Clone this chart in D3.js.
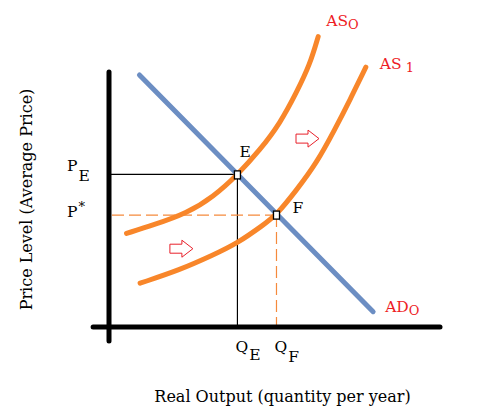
<!DOCTYPE html>
<html>
<head>
<meta charset="utf-8">
<script src="https://cdn.jsdelivr.net/npm/d3@7"></script>
<style>
  body { margin: 0; background: #fff; }
  text { font-family: "DejaVu Serif", "Liberation Serif", serif; }
  .title { font-size: 16px; fill: #000; }
  .mark { font-size: 15.5px; fill: #000; }
  .curveLabel { font-size: 15.5px; fill: #ee1c25; }
</style>
</head>
<body>
<div id="chart"></div>
<script>
// curve points in chart units (0..10 on both axes)
var adPoints  = [[0.92, 8.4], [7.98, 0.51]];
var as0Points = [[0.53, 3.12], [1.34, 3.40], [2.35, 3.79], [3.15, 4.34], [3.88, 5.07], [4.56, 5.9], [5.17, 6.79], [5.67, 7.83], [6.07, 8.75], [6.32, 9.68]];
var as1Points = [[0.94, 1.46], [2.14, 1.90], [3.15, 2.40], [3.88, 2.79], [4.66, 3.40], [5.06, 3.73], [5.67, 4.57], [6.27, 5.46], [6.83, 6.6], [7.28, 7.57], [7.76, 8.66]];

// equilibrium points E and F
var pointE = [3.88, 5.07];
var pointF = [5.06, 3.73];

// shift arrows (left end of each arrow)
var shiftArrows = [[1.84, 2.61], [5.65, 6.28]];

// label texts
var curveNames = [["AS", "O"], ["AS", " 1"], ["AD", "O"]];
var priceLabels = [["P", "E"], ["P", "*"]];
var qtyLabels = [["Q", "E"], ["Q", "F"]];
var xTitle = "Real Output (quantity per year)";
var yTitle = "Price Level (Average Price)";

function init() {
    var w = 492, h = 410;

    var xScale = d3.scaleLinear().domain([0, 10]).range([109, 440]);
    var yScale = d3.scaleLinear().domain([0, 10]).range([327, 27]);

    var svg = d3.select("#chart").append("svg")
        .attr("width", w)
        .attr("height", h);

    var line = d3.line()
        .x(function(d) { return xScale(d[0]); })
        .y(function(d) { return yScale(d[1]); });

    var smooth = d3.line()
        .x(function(d) { return xScale(d[0]); })
        .y(function(d) { return yScale(d[1]); })
        .curve(d3.curveBasis);

    // guide lines to E (solid) and F (dashed)
    svg.append("line")
        .attr("x1", xScale(0) + 2).attr("y1", yScale(pointE[1]) - 0.5)
        .attr("x2", xScale(pointE[0])).attr("y2", yScale(pointE[1]) - 0.5)
        .attr("stroke", "#000").attr("stroke-width", 1.2);
    svg.append("line")
        .attr("x1", xScale(pointE[0])).attr("y1", yScale(pointE[1]))
        .attr("x2", xScale(pointE[0])).attr("y2", yScale(0))
        .attr("stroke", "#000").attr("stroke-width", 1.2);
    svg.append("line")
        .attr("x1", xScale(0) + 3).attr("y1", yScale(pointF[1]))
        .attr("x2", xScale(pointF[0])).attr("y2", yScale(pointF[1]))
        .attr("stroke", "#f58a3c").attr("stroke-width", 1.2)
        .attr("stroke-dasharray", "12,5");
    svg.append("line")
        .attr("x1", xScale(pointF[0])).attr("y1", yScale(pointF[1]))
        .attr("x2", xScale(pointF[0])).attr("y2", yScale(0))
        .attr("stroke", "#f58a3c").attr("stroke-width", 1.2)
        .attr("stroke-dasharray", "12,5");

    // curves
    svg.append("path").datum(adPoints)
        .attr("d", line)
        .attr("fill", "none").attr("stroke", "#6c8ec3")
        .attr("stroke-width", 5).attr("stroke-linecap", "round");

    [as0Points, as1Points].forEach(function(pts) {
        svg.append("path").datum(pts)
            .attr("d", smooth)
            .attr("fill", "none").attr("stroke", "#f8862a")
            .attr("stroke-width", 5).attr("stroke-linecap", "round");
    });

    // axes
    svg.append("line")
        .attr("x1", xScale(0)).attr("y1", yScale(8.5))
        .attr("x2", xScale(0)).attr("y2", yScale(-0.47))
        .attr("stroke", "#000").attr("stroke-width", 5).attr("stroke-linecap", "round");
    svg.append("line")
        .attr("x1", xScale(-0.48)).attr("y1", yScale(0))
        .attr("x2", xScale(10)).attr("y2", yScale(0))
        .attr("stroke", "#000").attr("stroke-width", 5).attr("stroke-linecap", "round");

    // shift arrows
    svg.selectAll(".shift").data(shiftArrows).enter().append("path")
        .attr("class", "shift")
        .attr("transform", function(d) { return "translate(" + xScale(d[0]) + "," + yScale(d[1]) + ")"; })
        .attr("d", "M0,-4.5L12,-4.5L12,-8.5L23,0L12,8.5L12,4.5L0,4.5Z")
        .attr("fill", "#fff").attr("stroke", "#e8202a").attr("stroke-width", 1);

    // equilibrium boxes
    svg.selectAll(".eq").data([pointE, pointF]).enter().append("rect")
        .attr("class", "eq")
        .attr("x", function(d) { return xScale(d[0]) - 3; })
        .attr("y", function(d) { return yScale(d[1]) - 4; })
        .attr("width", 6).attr("height", 8)
        .attr("fill", "#fff").attr("stroke", "#000").attr("stroke-width", 1.3);

    svg.append("text").attr("class", "mark")
        .attr("x", xScale(pointE[0]) + 2).attr("y", yScale(pointE[1]) - 18)
        .text("E");
    svg.append("text").attr("class", "mark")
        .attr("x", xScale(pointF[0]) + 16).attr("y", yScale(pointF[1]) - 2)
        .text("F");

    // curve labels with subscripts
    var curveEnds = [
        [xScale(as0Points[as0Points.length - 1][0]) + 8, yScale(as0Points[as0Points.length - 1][1]) - 11],
        [xScale(as1Points[as1Points.length - 1][0]) + 14, yScale(as1Points[as1Points.length - 1][1]) + 2],
        [xScale(adPoints[1][0]) + 12, yScale(adPoints[1][1]) + 0]
    ];
    curveNames.forEach(function(n, i) {
        var t = svg.append("text").attr("class", "curveLabel")
            .attr("x", curveEnds[i][0]).attr("y", curveEnds[i][1]);
        t.append("tspan").text(n[0]);
        t.append("tspan").attr("dy", 3).style("font-size", "13px")
            .attr("xml:space", "preserve").text(n[1]);
    });

    // price labels
    var priceY = [pointE[1], pointF[1]];
    var priceDy = [-3.5, 2];
    var priceSubDy = [9.5, -6];
    priceLabels.forEach(function(p, i) {
        var t = svg.append("text").attr("class", "mark")
            .attr("x", 67).attr("y", yScale(priceY[i]) + priceDy[i]);
        t.append("tspan").text(p[0]);
        t.append("tspan").attr("dy", priceSubDy[i]).attr("dx", 1)
            .style("font-size", i === 0 ? "15.5px" : "13px").text(p[1]);
    });

    // quantity labels
    var qtyX = [pointE[0], pointF[0]];
    qtyLabels.forEach(function(q, i) {
        var t = svg.append("text").attr("class", "mark")
            .attr("x", xScale(qtyX[i]) - 2).attr("y", yScale(0) + 25);
        t.append("tspan").text(q[0]);
        t.append("tspan").attr("dy", 8 + i * 2).attr("dx", 1).text(q[1]);
    });

    // axis titles
    svg.append("text").attr("class", "title")
        .attr("x", 282.5).attr("y", 402)
        .attr("text-anchor", "middle")
        .text(xTitle);
    svg.append("text").attr("class", "title")
        .attr("transform", "translate(32,199.5) rotate(-90)")
        .attr("text-anchor", "middle")
        .text(yTitle);
}

window.onload = init;
</script>
</body>
</html>
